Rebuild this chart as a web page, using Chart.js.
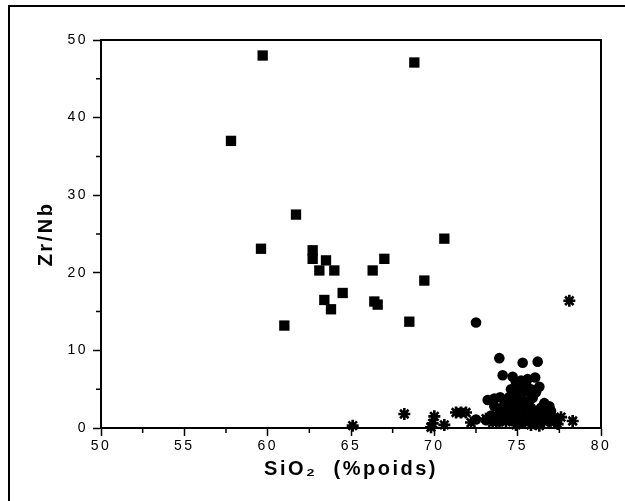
<!DOCTYPE html>
<html>
<head>
<meta charset="utf-8">
<script src="https://cdn.jsdelivr.net/npm/chart.js@4.4.0/dist/chart.umd.min.js"></script>
<style>
  html, body { margin: 0; padding: 0; background: #fff; }
  #wrap { width: 625px; height: 501px; }
</style>
</head>
<body>
<div id="wrap"><canvas id="chart" width="625" height="501"></canvas></div>
<script>
// Zr/Nb en fonction de SiO2 - trois groupes de roches

// carrés
const squareSiO2 = [57.8, 59.7, 68.8, 59.6, 61.7, 62.7, 62.7, 63.5, 63.1, 64.0, 63.4,
  63.8, 64.5, 61.0, 66.3, 67.0, 66.4, 66.6, 68.5, 69.4, 70.6];
const squareZrNb = [37.0, 48.0, 47.1, 23.1, 27.5, 22.9, 21.8, 21.6, 20.3, 20.3, 16.5,
  15.3, 17.4, 13.2, 20.3, 21.8, 16.3, 15.9, 13.7, 19.0, 24.4];

// cercles
const circleSiO2 = [72.5, 73.9, 75.3, 76.2, 74.1, 74.7, 75.2, 75.6, 76.05, 76.3, 74.9,
  75.3, 74.6, 75.0, 75.6, 75.2, 75.9, 74.5, 73.2, 73.6, 73.95, 74.2, 74.6, 75.0, 75.5,
  76.6, 76.9, 75.8, 75.2, 74.8, 75.5, 76.2, 76.7, 74.3, 74.9, 75.9, 76.5, 73.6, 74.0,
  75.3, 76.9, 72.5, 77.3, 73.1,
  74.0, 74.4, 73.6, 74.9, 75.4, 76.0, 76.4, 75.7, 75.1, 74.8, 75.5, 75.8, 76.1, 75.4,
  74.6, 76.1, 73.9, 77.0, 76.7, 73.4, 76.2, 75.0, 75.9, 74.3];
const circleZrNb = [13.6, 9.0, 8.4, 8.55, 6.8, 6.6, 6.1, 6.3, 6.5, 5.3, 5.9,
  5.4, 5.0, 4.8, 4.7, 4.2, 3.9, 4.0, 3.6, 3.8, 3.95, 3.0, 3.3, 3.4, 3.2,
  3.2, 2.8, 2.6, 2.3, 2.0, 1.8, 2.0, 1.6, 1.4, 1.2, 1.1, 1.0, 1.0, 1.6,
  0.7, 0.8, 1.1, 1.2, 1.0,
  2.5, 2.2, 2.8, 2.6, 2.7, 2.2, 2.6, 3.5, 3.8, 4.5, 5.7, 5.0, 4.6, 1.2,
  0.9, 1.5, 0.8, 2.2, 2.3, 1.6, 0.6, 5.6, 4.3, 3.6];

// étoiles
const starSiO2 = [65.1, 68.2, 69.9, 70.0, 69.8, 70.6, 71.3, 71.6, 71.9, 72.2, 78.1,
  78.3, 77.6, 77.2, 76.8, 73.1, 73.5, 73.9, 74.3, 74.7, 75.1, 75.6, 76.1, 76.5, 77.0,
  74.9, 75.8, 76.3, 73.7, 77.4];
const starZrNb = [0.3, 1.8, 0.6, 1.5, 0.1, 0.4, 2.0, 2.0, 2.0, 0.7, 16.4,
  0.9, 1.4, 0.8, 1.3, 1.2, 0.7, 1.2, 0.8, 1.3, 0.9, 1.3, 0.8, 1.4, 1.7,
  0.4, 0.4, 0.3, 1.5, 0.5];

const xTicks = [50, 55, 60, 65, 70, 75, 80];
const yTicks = [0, 10, 20, 30, 40, 50];

function toPoints(xs, ys) {
  return xs.map((x, i) => ({ x: x, y: ys[i] }));
}

const FONT = '"Liberation Sans", Arial, sans-serif';

// cadre, traits du haut et de droite, petites graduations
const framePlugin = {
  id: 'frame',
  beforeDraw(chart) {
    chart.ctx.letterSpacing = '2.5px';
  },
  afterDraw(chart) {
    const ctx = chart.ctx;
    const area = chart.chartArea;
    const xs = chart.scales.x;
    const ys = chart.scales.y;
    ctx.save();
    ctx.strokeStyle = '#000';
    ctx.lineCap = 'butt';

    // cadre extérieur
    ctx.lineWidth = 2;
    ctx.beginPath();
    ctx.moveTo(9, 501);
    ctx.lineTo(9, 6);
    ctx.lineTo(625, 6);
    ctx.stroke();

    // haut et droite du graphique
    ctx.lineWidth = 2;
    ctx.beginPath();
    ctx.moveTo(area.left, area.top);
    ctx.lineTo(area.right, area.top);
    ctx.lineTo(area.right, area.bottom);
    ctx.stroke();

    // graduations mineures
    ctx.lineWidth = 1.5;
    ctx.beginPath();
    xs.ticks.forEach(t => {
      if (xTicks.indexOf(t.value) === -1) {
        const px = xs.getPixelForValue(t.value);
        ctx.moveTo(px, area.bottom);
        ctx.lineTo(px, area.bottom + 5);
      }
    });
    ys.ticks.forEach(t => {
      if (yTicks.indexOf(t.value) === -1) {
        const py = ys.getPixelForValue(t.value);
        ctx.moveTo(area.left, py);
        ctx.lineTo(area.left - 5, py);
      }
    });
    ctx.stroke();
    ctx.restore();
  }
};

const ctx = document.getElementById('chart').getContext('2d');

new Chart(ctx, {
  type: 'scatter',
  data: {
    datasets: [
      {
        label: 'carrés',
        data: toPoints(squareSiO2, squareZrNb),
        pointStyle: 'rect',
        pointRadius: 7.3,
        backgroundColor: '#000',
        borderColor: '#000',
        borderWidth: 0
      },
      {
        label: 'cercles',
        data: toPoints(circleSiO2, circleZrNb),
        pointStyle: 'circle',
        pointRadius: 5.3,
        backgroundColor: '#000',
        borderColor: '#000',
        borderWidth: 0
      },
      {
        label: 'étoiles',
        data: toPoints(starSiO2, starZrNb),
        pointStyle: 'star',
        pointRadius: 6,
        backgroundColor: '#000',
        borderColor: '#000',
        borderWidth: 2.6
      }
    ]
  },
  options: {
    responsive: false,
    animation: false,
    clip: false,
    layout: { padding: { top: 40, right: 24, left: 0, bottom: 0 } },
    plugins: {
      legend: { display: false },
      tooltip: { enabled: false }
    },
    scales: {
      x: {
        type: 'linear',
        min: 50,
        max: 80,
        afterFit(scale) { scale.height = 73; },
        border: { display: true, color: '#000', width: 2 },
        grid: {
          drawOnChartArea: false,
          drawTicks: true,
          tickLength: 8,
          tickWidth: 1.5,
          tickColor: c => xTicks.indexOf(c.tick.value) !== -1 ? '#000' : 'rgba(0,0,0,0)'
        },
        ticks: {
          stepSize: 2.5,
          autoSkip: false,
          maxRotation: 0,
          padding: 2,
          color: '#000',
          font: { family: FONT, size: 14 },
          callback: v => xTicks.indexOf(v) !== -1 ? String(v) : ''
        },
        title: {
          display: true,
          text: 'SiO₂  (%poids)',
          color: '#000',
          font: { family: FONT, size: 20, weight: 'bold' },
          padding: { top: 0, bottom: 20 }
        }
      },
      y: {
        type: 'linear',
        min: 0,
        max: 50,
        afterFit(scale) { scale.width = 101; },
        border: { display: true, color: '#000', width: 2 },
        grid: {
          drawOnChartArea: false,
          drawTicks: true,
          tickLength: 8,
          tickWidth: 1.5,
          tickColor: c => yTicks.indexOf(c.tick.value) !== -1 ? '#000' : 'rgba(0,0,0,0)'
        },
        ticks: {
          stepSize: 5,
          autoSkip: false,
          padding: 5,
          color: '#000',
          font: { family: FONT, size: 14 },
          callback: v => yTicks.indexOf(v) !== -1 ? String(v) : ''
        },
        title: {
          display: true,
          text: 'Zr/Nb',
          color: '#000',
          font: { family: FONT, size: 20, weight: 'bold' },
          padding: { top: 34, bottom: 0 }
        }
      }
    }
  },
  plugins: [framePlugin]
});
</script>
</body>
</html>
